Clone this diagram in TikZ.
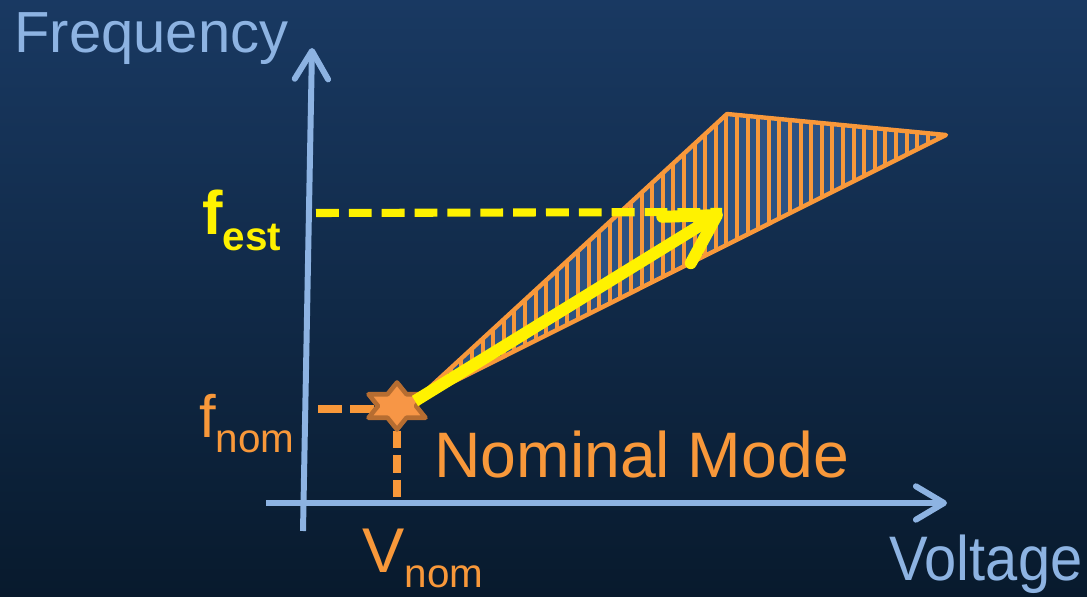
\documentclass[tikz,border=0pt]{standalone}
\usepackage{fontspec}
\setmainfont{Liberation Sans}
\usepackage{tikz}
\usetikzlibrary{arrows.meta,shapes.geometric}
\usepackage{xcolor}
\definecolor{axisblue}{RGB}{141,179,226}
\definecolor{nomorange}{RGB}{248,152,58}
\definecolor{starfill}{RGB}{247,150,70}
\definecolor{starline}{RGB}{182,109,49}
\definecolor{hatchblue}{RGB}{44,82,130}
\definecolor{bgtop}{RGB}{25,57,98}
\definecolor{bgbot}{RGB}{8,26,45}
\newcommand{\subtext}[1]{\raisebox{-9pt}{\fontsize{23}{23}\selectfont #1}}

\begin{document}
\begin{tikzpicture}[x=0.02cm,y=-0.02cm,
  axis/.style={draw=axisblue,line width=3.4pt,-{Straight Barb[round,length=16pt,width=19pt]}},
  guide/.style={draw=nomorange,line width=4.4pt,dash pattern=on 13.6pt off 4.5pt},
  estguide/.style={draw=yellow,line width=4.6pt,dash pattern=on 13pt off 5.7pt},
  estarrow/.style={draw=yellow,line width=6.8pt,-{Straight Barb[round,length=27pt,width=31pt]}},
  axistext/.style={anchor=base west,inner sep=0pt,font=\fontsize{33}{33}\selectfont},
  modestar/.style={star,star points=6,star point ratio=1.73,minimum size=0.94cm,inner sep=0pt,
    xscale=1.4,fill=starfill,draw=starline,line width=2.6pt,line join=round}]
\useasboundingbox (0,0) rectangle (1087,597);
\shade[top color=bgtop,bottom color=bgbot] (0,0) rectangle (1087,597);
\coordinate (tria) at (415,401);
\coordinate (trib) at (727,114);
\coordinate (tric) at (946,135);
\begin{scope}
\clip (tria) -- (trib) -- (tric) -- cycle;
\fill[hatchblue] (tria) -- (trib) -- (tric) -- cycle;
\foreach \x in {419,429.6,...,946}
  \draw[nomorange,line width=2.3pt] (\x,100) -- (\x,410);
\end{scope}
\draw[nomorange,line width=2.5pt,line join=round] (tria) -- (trib) -- (tric) -- cycle;
\coordinate (vbot) at (303,531);
\coordinate (vtop) at (312,48);
\coordinate (hleft) at (266,503);
\coordinate (hright) at (947,503);
\draw[axis] (vbot) -- (vtop);
\draw[axis] (hleft) -- (hright);
\coordinate (festaxis) at (316,213);
\coordinate (fest) at (722,212);
\coordinate (fnomaxis) at (318,409);
\coordinate (vnomaxis) at (397,500);
\coordinate (nompt) at (397,406);
\draw[estguide] (festaxis) -- (fest);
\draw[guide] (fnomaxis) -- (fnomaxis -| nompt);
\draw[guide,dash pattern=on 10pt off 4pt] (nompt) -- (vnomaxis);
\node[modestar] (nom) at (nompt) {};
\draw[estarrow] (tria) -- (fest);
\node[axistext,axisblue] (freqlabel) at (14,53) {Frequency};
\node[axistext,axisblue,font=\fontsize{35.8}{36}\selectfont,xscale=.92] (voltlabel) at (889,580) {Voltage};
\node[axistext,yellow,font=\fontsize{35}{35}\bfseries] (festlabel) at (202,235) {f\subtext{\bfseries est}};
\node[axistext,nomorange,font=\fontsize{34}{34}\selectfont] (fnomlabel) at (199,437) {f\subtext{nom}};
\node[axistext,nomorange,font=\fontsize{36}{36}\selectfont] (vnomlabel) at (362,572) {V\subtext{nom}};
\node[axistext,nomorange,font=\fontsize{36.6}{37}\selectfont] (modelabel) at (434,477) {Nominal Mode};
\end{tikzpicture}
\end{document}
